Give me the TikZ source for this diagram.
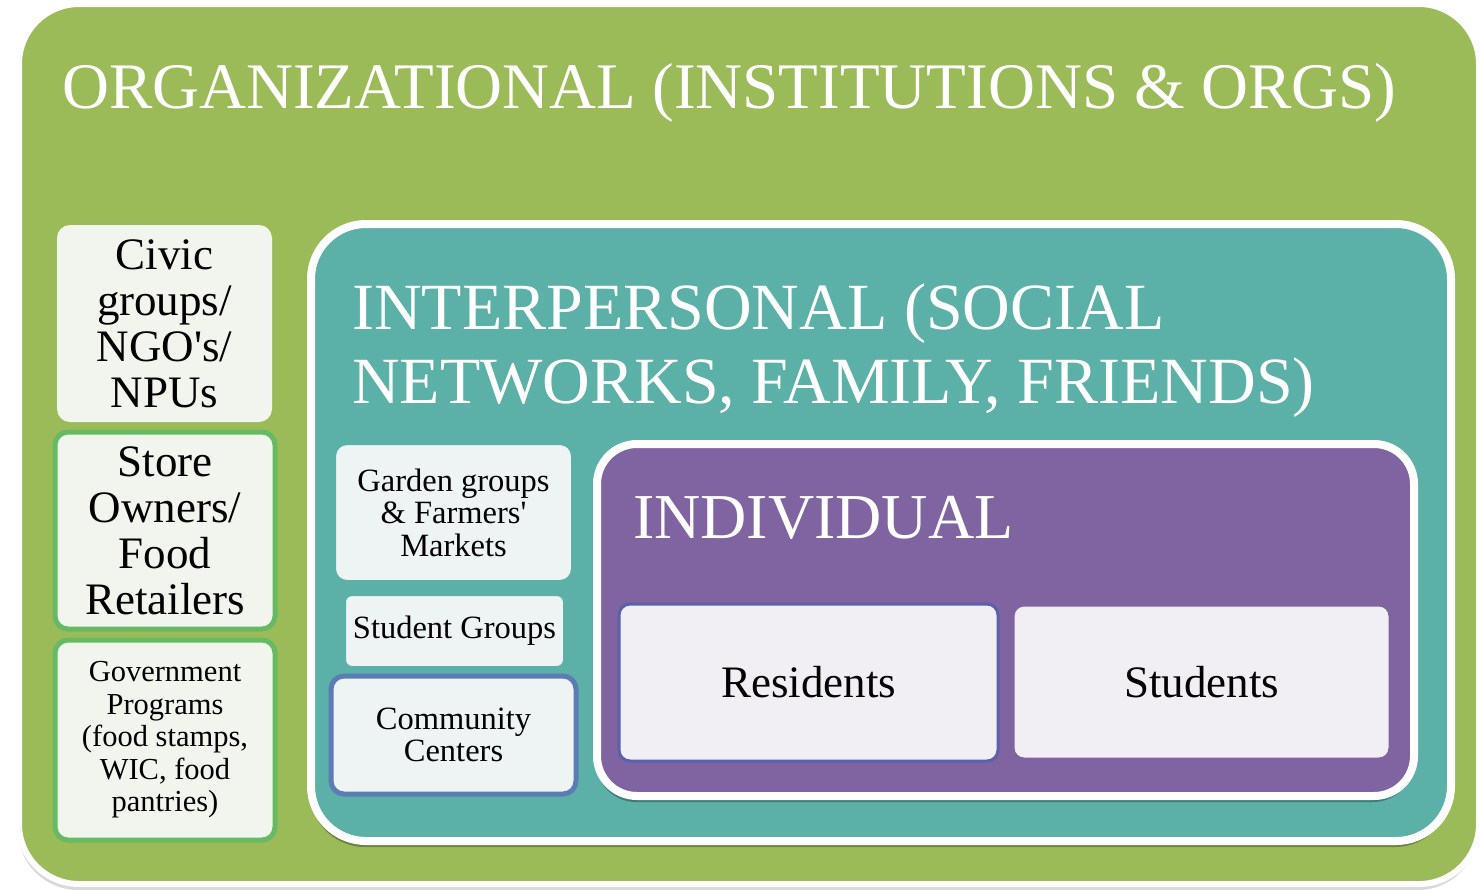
\documentclass[tikz,border=0pt]{standalone}
\usepackage{fontspec}
\setmainfont{Liberation Serif}
\usetikzlibrary{shadows}

\definecolor{orggreen}{RGB}{155,187,89}
\definecolor{socteal}{RGB}{91,176,167}
\definecolor{indpurple}{RGB}{128,100,162}
\definecolor{greenpale}{RGB}{242,245,238}
\definecolor{tealpale}{RGB}{238,243,244}
\definecolor{purplepale}{RGB}{241,239,244}
\definecolor{storegreen}{RGB}{104,185,100}
\definecolor{comblue}{RGB}{92,124,182}
\definecolor{resblue}{RGB}{90,96,170}

\begin{document}
\begin{tikzpicture}[x=1pt, y=-1pt,
    level/.style={draw=white, inner sep=0pt,
        drop shadow={shadow xshift=-1pt, shadow yshift=-6pt, opacity=#1, fill=black}},
    level/.default=0.3,
    title/.style={text=white, inner sep=0pt, anchor=base west, align=left,
        font=\fontsize{65}{74}\selectfont},
    item/.style={rounded corners=13pt, line width=4pt, inner sep=0pt, align=center},
    bigtext/.style={font=\fontsize{45}{46}\selectfont},
    smalltext/.style={font=\fontsize{30.5}{32.5}\selectfont},
    tealtext/.style={font=\fontsize{32.5}{32.5}\selectfont}]
    \useasboundingbox (0,0) rectangle (1482,889);

    % the three nested levels
    \node[level=0.15, fill=orggreen, line width=6pt, rounded corners=60pt,
        minimum width=1460, minimum height=880] (org) at (749,444) {};
    \node[level, fill=socteal, line width=8pt, rounded corners=55pt,
        minimum width=1140, minimum height=617] (soc) at (881,532.5) {};
    \node[level, fill=indpurple, line width=8pt, rounded corners=40pt,
        minimum width=817, minimum height=352] (ind) at (1005.5,620) {};

    \node[title] (orgtitle) at (62,108) {ORGANIZATIONAL (INSTITUTIONS \& ORGS)};
    \node[title, font=\fontsize{66}{74}\selectfont] (soctitle) at (352,403)
        {INTERPERSONAL (SOCIAL\\NETWORKS, FAMILY, FRIENDS)};
    \node[title, font=\fontsize{64}{74}\selectfont] (indtitle) at (633,538) {INDIVIDUAL};

    % organizational
    \node[item, bigtext, fill=greenpale, draw=none, minimum width=215, minimum height=197]
        (civic) at (164.5,323.5) {Civic\\groups/\\NGO\textquotesingle s/\\NPUs};
    \node[item, bigtext, fill=greenpale, draw=storegreen, line width=5pt, minimum width=220, minimum height=197]
        (store) at (165,530.5) {Store\\Owners/\\Food\\Retailers};
    \node[item, smalltext, fill=greenpale, draw=storegreen, line width=5pt, minimum width=220, minimum height=200]
        (gov) at (165,740) {Government\\Programs\\(food stamps,\\WIC, food\\pantries)};

    % interpersonal
    \node[item, tealtext, fill=tealpale, draw=socteal, minimum width=239, minimum height=139]
        (garden) at (453.5,512.5) {Garden groups\\\& Farmers\textquotesingle\\Markets};
    \node[item, tealtext, fill=tealpale, draw=socteal, rounded corners=8pt, minimum width=221, minimum height=74]
        (studgroups) at (454.5,631) {Student Groups};
    \node[item, tealtext, fill=tealpale, draw=comblue, line width=5pt, minimum width=245, minimum height=118]
        (community) at (453.5,735) {Community\\Centers};

    % individual
    \node[item, bigtext, fill=purplepale, draw=resblue, line width=3pt, rounded corners=11pt,
        minimum width=379, minimum height=157] (residents) at (808.5,682.5) {Residents};
    \node[item, bigtext, fill=purplepale, draw=indpurple, line width=3pt, rounded corners=11pt,
        minimum width=377, minimum height=154] (students) at (1201.5,682) {Students};
\end{tikzpicture}
\end{document}
